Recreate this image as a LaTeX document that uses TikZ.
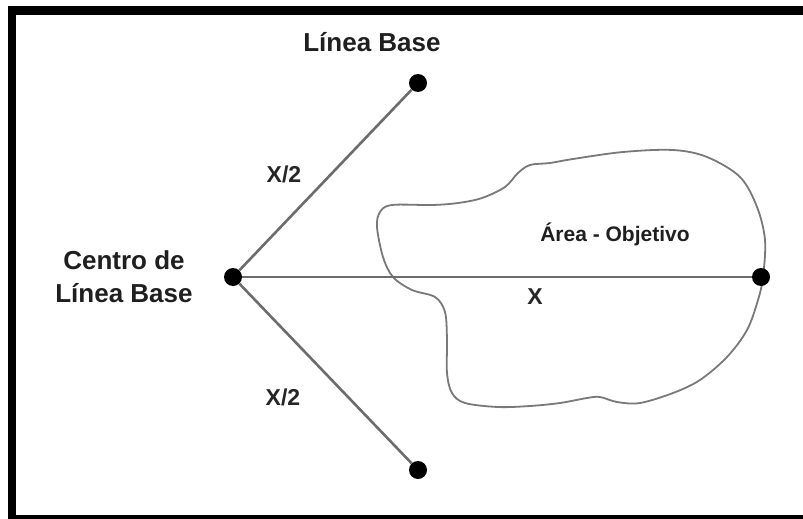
\documentclass[tikz,border=0pt]{standalone}
\usepackage{fontspec}
\setmainfont{Liberation Sans}
\begin{document}
\begin{tikzpicture}[x=1pt,y=-1pt,
  dot/.style={circle,fill=black,inner sep=0pt,minimum size=18pt},
  leg/.style={draw=gray!85!black,line width=2.6pt},
  outline/.style={draw=gray!95!black,line width=1.8pt},
  bigtxt/.style={font=\bfseries\fontsize{26}{33}\selectfont,text=black!88,inner sep=0pt,anchor=base},
  midtxt/.style={font=\bfseries\fontsize{23}{28}\selectfont,text=black!85,inner sep=0pt,anchor=base},
  smalltxt/.style={font=\bfseries\fontsize{21}{25}\selectfont,text=black!88,inner sep=0pt,anchor=base}]
\useasboundingbox (0,0) rectangle (803,519);
\clip (0,0) rectangle (803,519);
\fill[white] (0,0) rectangle (803,519);
% frame
\draw[line width=8.5pt] (12.2,10.5) rectangle (815,519);

% target area outline
\draw[outline] plot[smooth cycle,tension=0.55] coordinates {
  (763,277) (758,300) (747,330) (727,357) (700,380) (673,393) (640,403)
  (617,402) (600,397) (587,398) (560,403) (530,406) (498,407) (465,403)
  (452,393) (447,373) (447,340) (445,312) (435,297) (412,290) (393,277)
  (383,257) (377,227) (380,212) (392,205) (432,205) (458,203) (482,198)
  (505,187) (518,173) (530,165) (550,163) (573,159) (623,152) (673,150)
  (707,157) (740,177) (757,207) (765,240)};

% points
\node[dot] (c) at (233,277) {};
\node[dot] (t) at (418,83) {};
\node[dot] (b) at (418,470) {};
\node[dot] (r) at (761,277) {};

% baseline legs and axis
\draw[leg] (c) -- (t);
\draw[leg] (c) -- (b);
\draw[leg,line width=2.4pt] (c) -- (r);

% labels
\node[bigtxt] (lbtop) at (372,52) {Línea Base};
\node[bigtxt] (centroa) at (124,269) {Centro de};
\node[bigtxt] (centrob) at (124,302) {Línea Base};
\node[midtxt] (xhalfa) at (284,182) {X/2};
\node[midtxt] (xhalfb) at (283,405) {X/2};
\node[midtxt] (xfull) at (535,304) {X};
\node[smalltxt] (area) at (615,241) {Área - Objetivo};
\end{tikzpicture}
\end{document}
